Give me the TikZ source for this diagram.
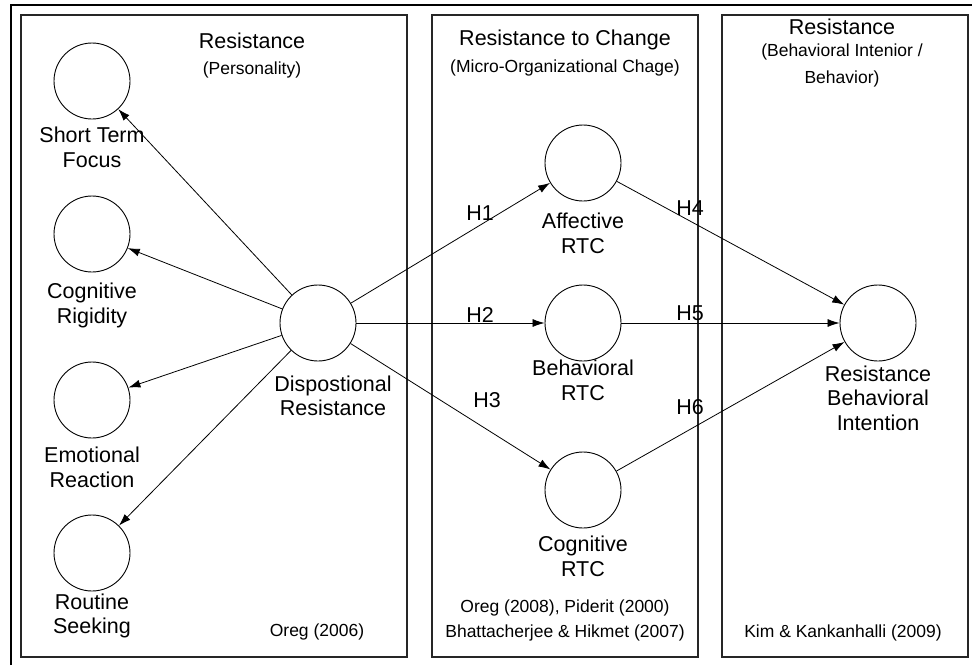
\documentclass[tikz,border=0pt]{standalone}
\usepackage{fontspec}
\setmainfont{Liberation Sans}
\usetikzlibrary{arrows.meta}
\begin{document}
\begin{tikzpicture}[x=1pt,y=-1pt,
  latent/.style={circle,draw,line width=0.9pt,minimum size=76pt,inner sep=0pt},
  lbl/.style={align=center,font=\fontsize{21.5}{24.5}\selectfont,inner sep=0pt},
  hyp/.style={font=\fontsize{21.5}{24}\selectfont,inner sep=0pt},
  sub/.style={align=center,font=\fontsize{17.5}{27}\selectfont,inner sep=0pt},
  cite/.style={align=center,font=\fontsize{17.5}{25}\selectfont,inner sep=0pt},
  panel/.style={draw=black!85,line width=1.3pt},
  arr/.style={line width=0.8pt,-{Latex[length=12pt,width=8pt]}}]
\useasboundingbox (0,0) rectangle (972,665);
% outer frame (top and left only visible)
\draw[line width=2pt] (11,665) -- (11,5) -- (972,5);
% panels
\draw[panel] (21,15) rectangle (407,657);
\draw[panel] (432,15) rectangle (698,657);
\draw[panel] (722,15) rectangle (968,657);
% headers
\node[lbl] (h1) at (252,41) {Resistance};
\node[sub] (s1) at (252,70) {(Personality)};
\node[lbl] (h2) at (565,40) {Resistance to Change};
\node[sub] (s2) at (565,68) {(Micro-Organizational Chage)};
\node[lbl] (h3) at (842,27) {Resistance};
\node[sub] (s3) at (842,65) {(Behavioral Intenior /\\Behavior)};
% citations
\node[cite] (c1) at (317,632) {Oreg (2006)};
\node[cite] (c2) at (565,620) {Oreg (2008), Piderit (2000)\\Bhattacherjee \& Hikmet (2007)};
\node[cite] (c3) at (843,633) {Kim \& Kankanhalli (2009)};
% circles
\node[latent] (stf) at (92,81) {};
\node[latent] (cr) at (92,234) {};
\node[latent] (er) at (92,400) {};
\node[latent] (rs) at (92,553) {};
\node[latent] (dr) at (318,323) {};
\node[latent] (aff) at (583,163) {};
\node[latent] (beh) at (583,323) {};
\node[latent] (cog) at (583,490) {};
\node[latent] (rbi) at (878,323) {};
% circle labels
\node[lbl] (tstf) at (92,147.5) {Short Term\\Focus};
\node[lbl] (tcr) at (92,305.5) {Cognitive\\Rigidity};
\node[lbl] (ter) at (92,467.5) {Emotional\\Reaction};
\node[lbl] (trs) at (92,616) {Routine\\Seeking};
\node[lbl] (tdr) at (333,396) {Dispostional\\Resistance};
\node[lbl] (taff) at (583,233.5) {Affective\\RTC};
\node[lbl] (tbeh) at (583,380.5) {Behavioral\\RTC};
\node[lbl] (tcog) at (583,556.5) {Cognitive\\RTC};
\node[lbl] (trbi) at (878,398) {Resistance\\Behavioral\\Intention};
% arrows
\draw[arr] (dr) -- (stf);
\draw[arr] (dr) -- (cr);
\draw[arr] (dr) -- (er);
\draw[arr] (dr) -- (rs);
\draw[arr] (dr) -- (aff);
\draw[arr] (dr) -- (beh);
\draw[arr] (dr) -- (cog);
\draw[arr] (aff) -- (rbi);
\draw[arr] (beh) -- (rbi);
\draw[arr] (cog) -- (rbi);
% hypothesis labels
\node[hyp] (H1) at (480,213) {H1};
\node[hyp] (H2) at (480,315) {H2};
\node[hyp] (H3) at (487,400) {H3};
\node[hyp] (H4) at (690,208) {H4};
\node[hyp] (H5) at (690,313) {H5};
\node[hyp] (H6) at (690,407) {H6};
\end{tikzpicture}
\end{document}
